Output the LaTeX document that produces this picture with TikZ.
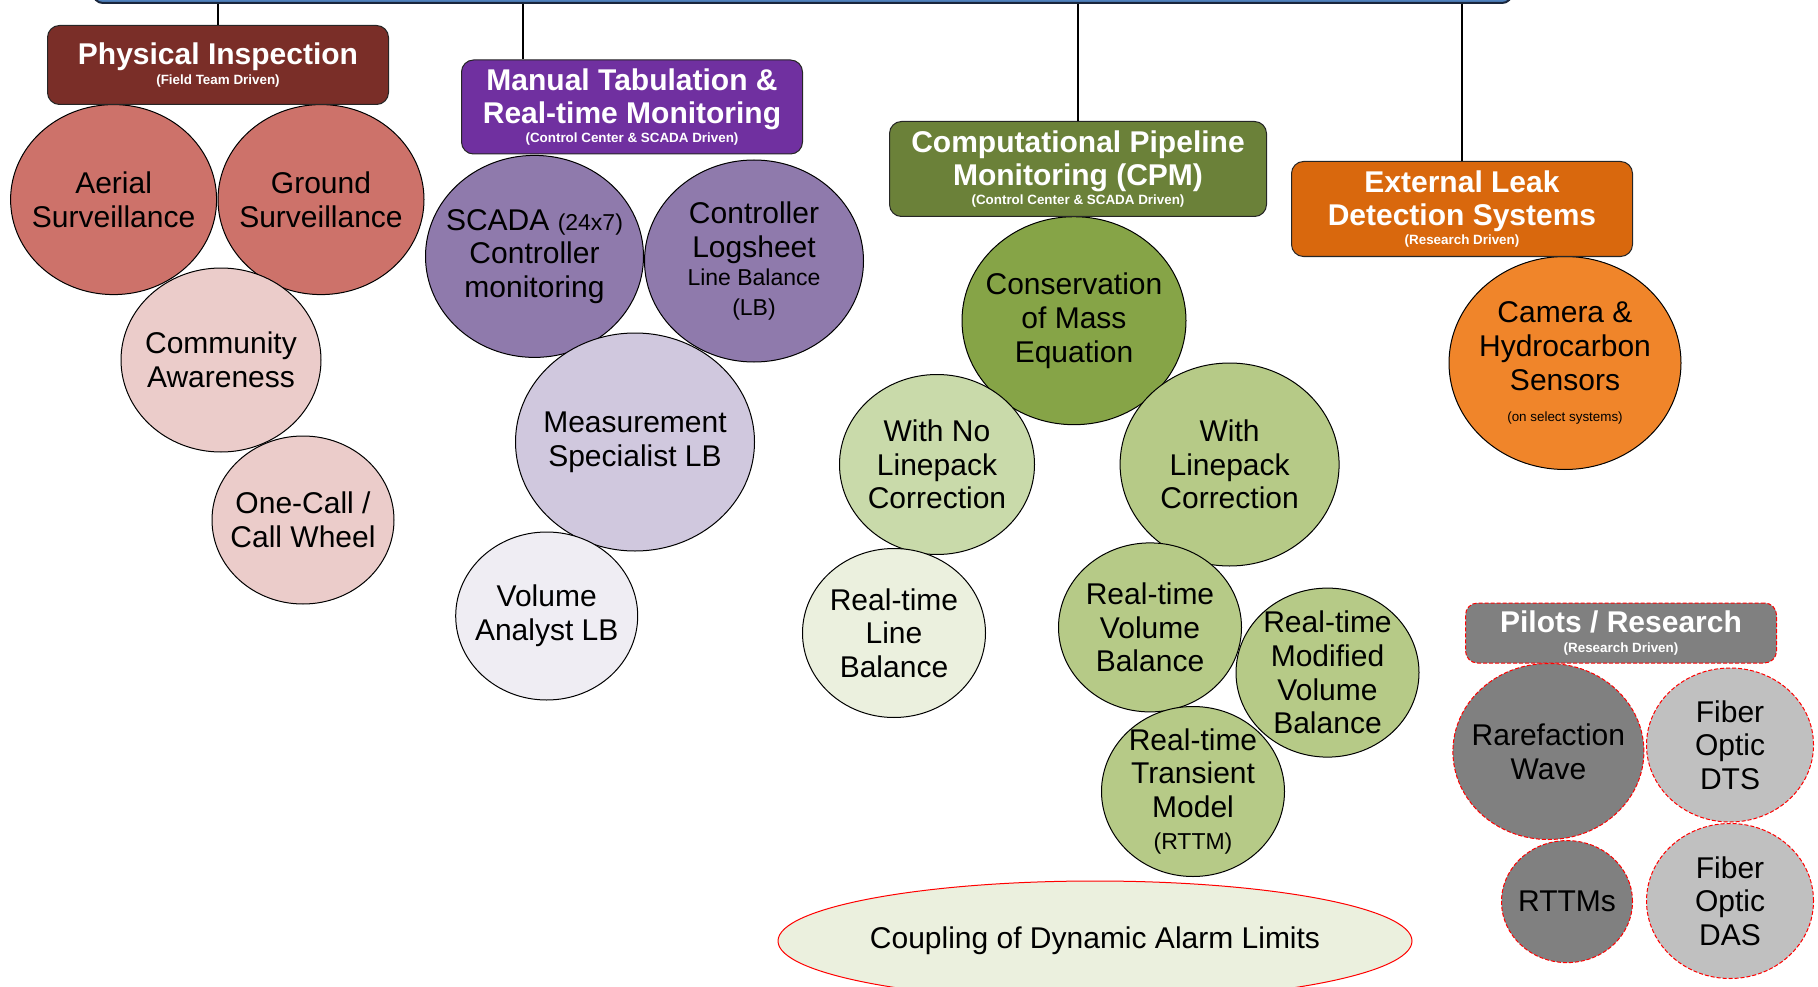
\documentclass[tikz,border=0pt]{standalone}
\usepackage{fontspec}
\setmainfont{Liberation Sans}
\usepackage{tikz}
\usetikzlibrary{shapes.geometric, positioning, calc}

\definecolor{rootblue}{RGB}{79,129,189}
\definecolor{rootedge}{RGB}{25,38,60}
\definecolor{inspred}{RGB}{122,46,40}
\definecolor{tabpurple}{RGB}{112,48,160}
\definecolor{cpmgreen}{RGB}{107,129,57}
\definecolor{extorange}{RGB}{217,104,13}
\definecolor{pilotgray}{RGB}{128,128,128}
\definecolor{survred}{RGB}{205,114,106}
\definecolor{commpink}{RGB}{235,204,202}
\definecolor{scadapurple}{RGB}{143,122,172}
\definecolor{measlilac}{RGB}{208,200,222}
\definecolor{voltint}{RGB}{239,237,243}
\definecolor{massgreen}{RGB}{134,164,71}
\definecolor{nolpgreen}{RGB}{201,218,170}
\definecolor{lpgreen}{RGB}{182,202,135}
\definecolor{paletint}{RGB}{235,240,222}
\definecolor{camorange}{RGB}{240,133,42}
\definecolor{fibergray}{RGB}{192,192,192}

\newcommand{\headfont}{\fontsize{30}{33.6}\selectfont\bfseries}
\newcommand{\drivenfont}{\fontsize{13.4}{16}\selectfont\bfseries}
\newcommand{\bubfont}{\fontsize{30}{33.6}\selectfont}
\newcommand{\midfont}{\fontsize{23}{27}\selectfont}
\newcommand{\notefont}{\fontsize{13.4}{16}\selectfont}

\begin{document}
\begin{tikzpicture}[x=1pt, y=-1pt]
    \tikzset{
        headbox/.style={
                rectangle, rounded corners=12pt, draw=black!85, line width=1pt,
                text=white, align=center, font=\headfont, inner sep=0pt
            },
        bubble/.style={
                ellipse, draw=black, line width=1pt, align=center,
                inner xsep=-60pt, inner ysep=-40pt, font=\bubfont
            },
        pilot/.style={draw=red, dash pattern=on 4pt off 2pt},
        link/.style={draw=black, line width=1.2pt}
    }
    \useasboundingbox (0,0) rectangle (1818,987);
    \clip (0,0) rectangle (1818,987);

    % top bar, only its lower edge is in view
    \node[rectangle, rounded corners=10pt, fill=rootblue, draw=rootedge, line width=2pt,
        minimum width=1419, minimum height=60] (root) at (802.5,-27) {};

    % Physical Inspection
    \node[bubble, fill=survred, minimum width=206, minimum height=190] (aerial) at (113.6,199.6) {Aerial\\Surveillance};
    \node[bubble, fill=survred, minimum width=206, minimum height=190] (ground) at (321,199.6) {Ground\\Surveillance};
    \node[bubble, fill=commpink, minimum width=200, minimum height=184] (community) at (221,360) {Community\\Awareness};
    \node[bubble, fill=commpink, minimum width=182, minimum height=168] (onecall) at (303,520) {One-Call /\\Call Wheel};
    \node[headbox, fill=inspred, minimum width=341, minimum height=79] (insp) at (218,65)
        {Physical Inspection\\[-14.5pt]{\drivenfont (Field Team Driven)}};

    % Manual Tabulation
    \node[bubble, fill=scadapurple, minimum width=218, minimum height=202] (scada) at (534.5,256.4)
        {SCADA {\midfont (24x7)}\\Controller\\monitoring};
    \node[bubble, fill=scadapurple, minimum width=219, minimum height=202] (logsheet) at (754,261)
        {Controller\\Logsheet\\[-6pt]{\midfont Line Balance}\\[-3.5pt]{\midfont (LB)}};
    \node[bubble, fill=measlilac, minimum width=239, minimum height=218] (measure) at (635,442) {Measurement\\Specialist LB};
    \node[bubble, fill=voltint, minimum width=182, minimum height=168] (analyst) at (546.7,616) {Volume\\Analyst LB};
    \node[headbox, fill=tabpurple, minimum width=341, minimum height=94] (manual) at (632,107)
        {Manual Tabulation \&\\Real-time Monitoring\\[-14.5pt]{\drivenfont (Control Center \& SCADA Driven)}};

    % CPM
    \node[bubble, fill=massgreen, minimum width=224, minimum height=208] (mass) at (1074,320.7) {Conservation\\of Mass\\Equation};
    \node[bubble, fill=nolpgreen, minimum width=195, minimum height=180] (nolinepack) at (937,464.5) {With No\\Linepack\\Correction};
    \node[bubble, fill=lpgreen, minimum width=219, minimum height=203] (linepack) at (1229.6,464.5) {With\\Linepack\\Correction};
    \node[bubble, fill=paletint, minimum width=183, minimum height=169] (rtlb) at (894,633) {Real-time\\Line\\Balance};
    \node[bubble, fill=lpgreen, minimum width=183, minimum height=169] (rtvb) at (1150,627.4) {Real-time\\Volume\\Balance};
    \node[bubble, fill=lpgreen, minimum width=183, minimum height=169] (rtmvb) at (1327.5,672.6) {Real-time\\Modified\\Volume\\Balance};
    \node[bubble, fill=lpgreen, minimum width=183, minimum height=170] (rttm) at (1193,791.5)
        {Real-time\\Transient\\Model\\[-1.5pt]{\midfont (RTTM)}};
    \node[headbox, fill=cpmgreen, minimum width=377, minimum height=95] (cpm) at (1078,169)
        {Computational Pipeline\\Monitoring (CPM)\\[-14.5pt]{\drivenfont (Control Center \& SCADA Driven)}};

    % External
    \node[bubble, fill=camorange, minimum width=232, minimum height=213] (camera) at (1565,363)
        {Camera \&\\Hydrocarbon\\Sensors\\[-2.5pt]{\notefont (on select systems)}};
    \node[headbox, fill=extorange, minimum width=341, minimum height=95] (ext) at (1462,209)
        {External Leak\\Detection Systems\\[-14.5pt]{\drivenfont (Research Driven)}};

    % Pilots
    \node[headbox, pilot, fill=pilotgray, minimum width=311, minimum height=60] (pilots) at (1621,633)
        {Pilots / Research\\[-14.5pt]{\drivenfont (Research Driven)}};
    \node[bubble, pilot, fill=pilotgray, minimum width=191, minimum height=176] (rarefaction) at (1548.4,751.5) {Rarefaction\\Wave};
    \node[bubble, pilot, fill=fibergray, minimum width=167, minimum height=154] (dts) at (1730,745) {Fiber\\Optic\\DTS};
    \node[bubble, pilot, fill=pilotgray, minimum width=131, minimum height=122] (rttms) at (1567,901.6) {RTTMs};
    \node[bubble, pilot, fill=fibergray, minimum width=167, minimum height=155] (das) at (1730,901) {Fiber\\Optic\\DAS};

    \node[bubble, fill=paletint, draw=red, minimum width=634, minimum height=120] (coupling) at (1095,941) {Coupling of Dynamic Alarm Limits};

    % drops from the top bar
    \coordinate (manual-hook) at ([xshift=-109pt]manual.north);
    \draw[link] (root.south -| insp.north) -- (insp.north);
    \draw[link] (root.south -| manual-hook) -- (manual-hook);
    \draw[link] (root.south -| cpm.north) -- (cpm.north);
    \draw[link] (root.south -| ext.north) -- (ext.north);
\end{tikzpicture}
\end{document}
